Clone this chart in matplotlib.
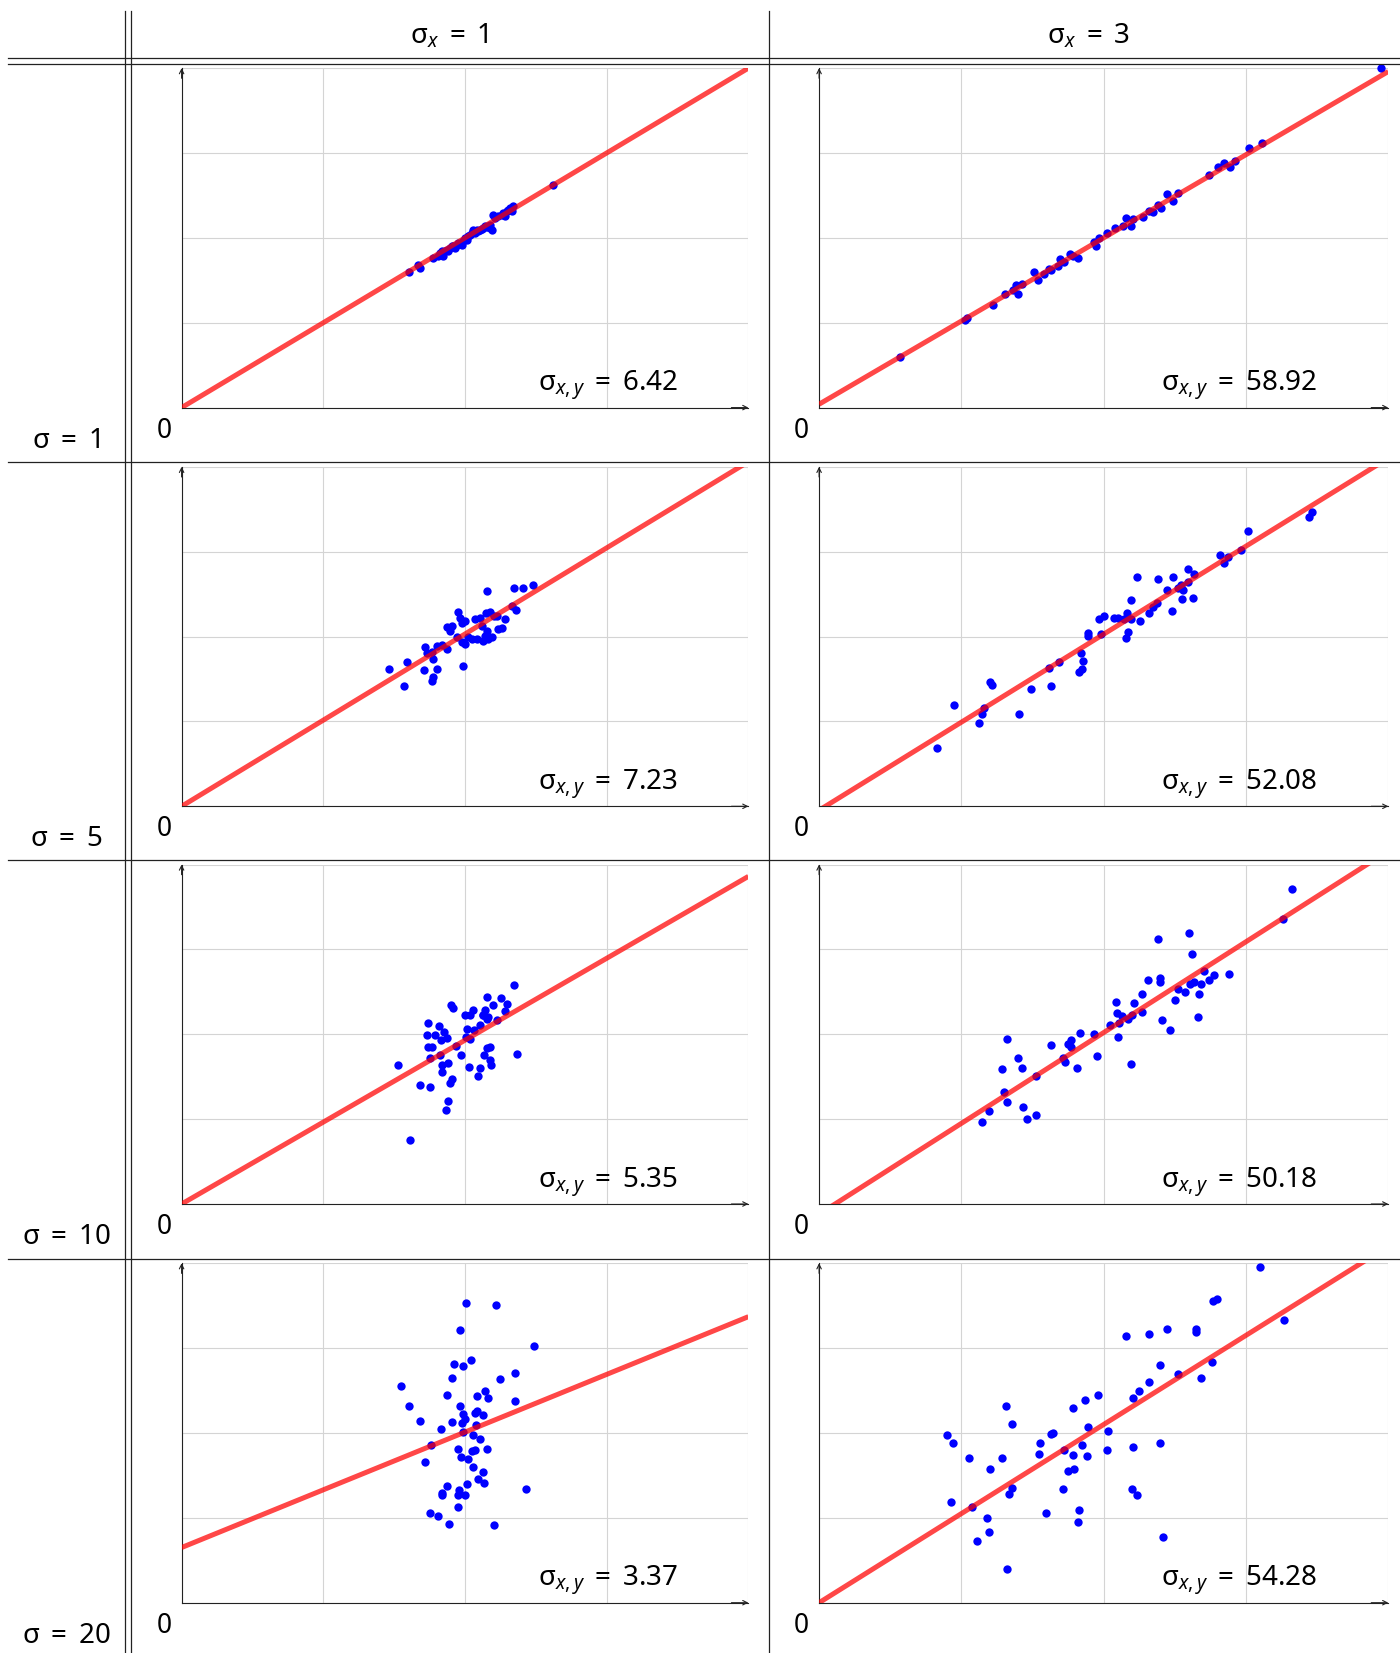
import numpy as np
import matplotlib
matplotlib.use('Agg')
import matplotlib.pyplot as plt
from matplotlib.lines import Line2D

plt.rcParams['font.family'] = ['Noto Sans', 'DejaVu Sans']
plt.rcParams['mathtext.fontset'] = 'custom'
plt.rcParams['mathtext.rm'] = 'Noto Sans'
plt.rcParams['mathtext.it'] = 'Noto Sans:italic'

# labels of the table
noise_labels = ['σ$\\;=\\;$1', 'σ$\\;=\\;$5', 'σ$\\;=\\;$10', 'σ$\\;=\\;$20']
sx_labels = ['σ$_x\\;=\\;$1', 'σ$_x\\;=\\;$3']
cov_values = [['6.42', '58.92'], ['7.23', '52.08'], ['5.35', '50.18'], ['3.37', '54.28']]

# regression lines (grid units, axes 0..4)
intercepts = [[0.0, 0.04], [0.0, -0.046], [0.0, -0.12], [0.65, 0.0]]
slopes = [[1.0, 0.98], [1.015, 1.037], [0.965, 1.07], [0.68, 1.05]]

# row 1 (sigma = 1)
x_r1c1 = [1.605, 1.670, 1.682, 1.776, 1.823, 1.847, 1.859, 1.894, 1.918, 1.941, 1.965, 1.988, 2.000,
          2.035, 2.059, 2.071, 2.094, 2.118, 2.153, 2.176, 2.188, 2.200, 2.259, 2.294, 2.318, 2.341,
          2.330, 2.623, 1.812, 1.835, 1.871, 1.882, 1.906, 1.929, 1.953, 1.977, 2.012, 2.024, 2.047,
          2.082, 2.106, 2.130, 2.165, 2.212, 2.236, 2.271, 2.283, 2.306, 2.177, 2.141]
y_r1c1 = [1.597, 1.683, 1.644, 1.762, 1.822, 1.782, 1.841, 1.880, 1.908, 1.919, 1.931, 1.959, 1.999,
          2.038, 2.097, 2.058, 2.077, 2.105, 2.128, 2.156, 2.097, 2.266, 2.274, 2.313, 2.353, 2.372,
          2.313, 2.628, 1.790, 1.841, 1.860, 1.841, 1.900, 1.880, 1.939, 1.919, 1.970, 2.018, 2.057,
          2.096, 2.096, 2.116, 2.136, 2.234, 2.254, 2.293, 2.254, 2.333, 2.116, 2.144]
x_r1c2 = [0.568, 1.041, 1.028, 1.220, 1.304, 1.360, 1.386, 1.398, 1.424, 1.513, 1.539, 1.577, 1.616,
          1.628, 1.692, 1.679, 1.718, 1.764, 1.782, 1.820, 1.935, 1.943, 1.968, 2.024, 2.080, 2.139,
          2.157, 2.190, 2.203, 2.275, 2.318, 2.344, 2.382, 2.400, 2.446, 2.489, 2.522, 2.739, 2.803,
          2.842, 2.888, 2.926, 3.020, 3.110, 3.948]
y_r1c2 = [0.600, 1.053, 1.034, 1.203, 1.340, 1.388, 1.447, 1.337, 1.459, 1.597, 1.499, 1.577, 1.632,
          1.616, 1.754, 1.664, 1.715, 1.809, 1.781, 1.762, 1.948, 1.900, 2.003, 2.062, 2.116, 2.136,
          2.235, 2.144, 2.227, 2.246, 2.313, 2.301, 2.392, 2.353, 2.520, 2.439, 2.529, 2.740, 2.830,
          2.882, 2.830, 2.909, 3.053, 3.120, 4.005]

# row 2 (sigma = 5)
x_r2c1 = [1.466, 1.571, 1.588, 1.713, 1.718, 1.729, 1.765, 1.765, 1.777, 1.800, 1.772, 1.800, 1.835,
          1.871, 1.875, 1.894, 1.906, 1.953, 1.965, 1.976, 2.000, 1.941, 1.976, 2.000, 1.988, 2.024,
          2.047, 2.071, 2.082, 2.106, 2.129, 2.141, 2.153, 2.118, 2.148, 2.176, 2.188, 2.165, 2.153,
          2.205, 2.224, 2.236, 2.259, 2.282, 2.329, 2.357, 2.345, 2.412, 2.482]
y_r2c1 = [1.617, 1.422, 1.703, 1.606, 1.872, 1.806, 1.820, 1.481, 1.520, 1.617, 1.734, 1.891, 1.902,
          1.852, 2.118, 2.067, 2.125, 2.290, 2.223, 2.165, 2.184, 1.989, 1.930, 1.911, 1.657, 1.989,
          1.970, 2.204, 1.970, 2.223, 1.950, 2.008, 2.067, 2.125, 2.282, 2.290, 1.989, 1.970, 2.536,
          2.243, 2.243, 2.094, 2.106, 2.204, 2.360, 2.309, 2.567, 2.567, 2.602]
x_r2c2 = [0.831, 0.950, 1.126, 1.147, 1.159, 1.201, 1.217, 1.405, 1.491, 1.613, 1.632, 1.688, 1.829,
          1.848, 1.853, 1.843, 1.888, 1.892, 1.981, 1.969, 2.004, 2.075, 2.103, 2.143, 2.166, 2.192,
          2.157, 2.173, 2.255, 2.192, 2.232, 2.321, 2.344, 2.372, 2.379, 2.443, 2.482, 2.489, 2.525,
          2.543, 2.560, 2.553, 2.590, 2.593, 2.625, 2.635, 2.817, 2.845, 2.871, 2.963, 3.012, 3.445, 3.461]
y_r2c2 = [0.686, 1.194, 0.980, 1.090, 1.164, 1.461, 1.434, 1.085, 1.387, 1.629, 1.418, 1.696, 1.578,
          1.618, 1.711, 1.805, 2.039, 2.008, 2.035, 2.211, 2.243, 2.223, 2.223, 2.204, 2.282, 2.204,
          1.981, 2.059, 2.184, 2.430, 2.699, 2.274, 2.348, 2.399, 2.680, 2.543, 2.301, 2.699, 2.575,
          2.603, 2.543, 2.446, 2.641, 2.797, 2.454, 2.738, 2.966, 2.868, 2.939, 3.025, 3.246, 3.407, 3.473]

# row 3 (sigma = 10)
x_r3c1 = [1.529, 1.612, 1.683, 1.753, 1.741, 1.729, 1.741, 1.765, 1.753, 1.788, 1.816, 1.824, 1.831,
          1.835, 1.835, 1.854, 1.871, 1.878, 1.901, 1.913, 1.906, 1.894, 1.882, 1.866, 1.937, 1.972,
          2.000, 2.016, 2.031, 2.035, 2.007, 2.035, 2.054, 2.066, 2.094, 2.106, 2.106, 2.129, 2.141,
          2.153, 2.153, 2.153, 2.177, 2.137, 2.177, 2.184, 2.195, 2.224, 2.252, 2.282, 2.299, 2.348,
          2.364, 2.125, 2.165]
y_r3c1 = [1.635, 0.753, 1.400, 1.380, 2.133, 1.988, 1.851, 1.851, 1.722, 1.996, 2.094, 1.761, 1.929,
          1.635, 1.557, 2.027, 1.957, 1.663, 2.341, 2.310, 1.478, 1.420, 1.216, 1.106, 1.859, 1.761,
          2.231, 2.067, 1.616, 2.224, 1.969, 1.941, 2.290, 2.055, 1.506, 1.604, 2.106, 2.224, 2.282,
          2.439, 2.176, 1.839, 1.851, 1.753, 1.694, 1.643, 2.349, 2.173, 2.431, 2.271, 2.353, 2.584,
          1.773, 2.231, 2.204]
x_r3c2 = [1.147, 1.194, 1.299, 1.318, 1.287, 1.323, 1.395, 1.424, 1.431, 1.459, 1.524, 1.524, 1.629,
          1.712, 1.728, 1.751, 1.770, 1.770, 1.815, 1.831, 1.929, 1.955, 2.042, 2.084, 2.098, 2.091,
          2.110, 2.126, 2.168, 2.196, 2.215, 2.192, 2.267, 2.271, 2.313, 2.384, 2.396, 2.398, 2.412,
          2.466, 2.501, 2.520, 2.574, 2.600, 2.618, 2.606, 2.632, 2.665, 2.667, 2.681, 2.707, 2.742,
          2.773, 2.878, 3.262, 3.321]
y_r3c2 = [0.961, 1.094, 1.322, 1.196, 1.588, 1.949, 1.725, 1.608, 1.137, 1.000, 1.047, 1.506, 1.871,
          1.725, 1.675, 1.890, 1.929, 1.851, 1.608, 2.012, 2.008, 1.745, 2.110, 2.380, 1.973, 2.251,
          2.133, 2.212, 2.184, 2.231, 2.369, 1.655, 2.478, 2.267, 2.635, 3.122, 2.667, 2.620, 2.169,
          2.051, 2.404, 2.529, 2.502, 3.196, 2.949, 2.596, 2.616, 2.204, 2.471, 2.588, 2.745, 2.639,
          2.702, 2.706, 3.361, 3.706]

# row 4 (sigma = 20)
x_r4c1 = [2.007, 2.219, 1.965, 2.489, 1.922, 1.983, 2.040, 1.906, 2.247, 2.353, 1.548, 1.871, 2.082,
          2.141, 2.165, 2.355, 1.602, 1.965, 1.988, 2.000, 2.071, 2.082, 2.129, 1.682, 1.828, 1.910,
          1.981, 1.988, 2.075, 2.059, 2.106, 1.758, 1.718, 1.953, 1.969, 2.019, 2.047, 2.071, 2.153,
          2.054, 2.125, 2.089, 2.136, 2.016, 1.871, 1.835, 1.838, 1.958, 1.953, 2.002, 2.431, 1.948,
          1.753, 1.812, 1.890, 2.207]
y_r4c1 = [3.530, 3.502, 3.208, 3.028, 2.808, 2.789, 2.855, 2.647, 2.636, 2.706, 2.553, 2.451, 2.432,
          2.498, 2.416, 2.377, 2.318, 2.314, 2.228, 2.169, 2.236, 2.255, 2.208, 2.141, 2.051, 2.130,
          2.118, 2.012, 2.091, 1.973, 1.929, 1.855, 1.659, 1.816, 1.718, 1.698, 1.792, 1.804, 1.816,
          1.600, 1.541, 1.463, 1.412, 1.404, 1.373, 1.298, 1.274, 1.326, 1.274, 1.274, 1.345, 1.130,
          1.051, 1.024, 0.926, 0.914]
x_r4c2 = [3.098, 2.770, 2.798, 3.267, 2.649, 2.649, 2.442, 2.318, 2.157, 2.396, 2.525, 2.320, 2.250,
          2.208, 2.761, 2.686, 1.962, 1.869, 1.787, 1.313, 1.356, 1.892, 2.033, 0.901, 0.943, 1.630,
          1.646, 1.552, 1.548, 1.721, 1.787, 1.848, 1.885, 2.021, 2.208, 2.396, 1.051, 1.283, 1.203,
          1.749, 1.791, 1.358, 1.335, 1.712, 2.197, 2.232, 0.929, 1.077, 1.177, 1.194, 1.107, 1.597,
          1.824, 1.817, 2.414, 1.318]
y_r4c2 = [3.961, 3.549, 3.581, 3.333, 3.228, 3.189, 3.228, 3.169, 3.138, 2.804, 2.694, 2.604, 2.494,
          2.412, 2.839, 2.651, 2.443, 2.385, 2.298, 2.318, 2.110, 2.071, 2.028, 1.973, 1.883, 1.985,
          2.000, 1.886, 1.749, 1.804, 1.737, 1.859, 1.730, 1.804, 1.836, 1.887, 1.706, 1.706, 1.581,
          1.549, 1.581, 1.357, 1.275, 1.341, 1.345, 1.267, 1.181, 1.130, 1.001, 0.828, 0.726, 1.059,
          1.091, 0.953, 0.777, 0.393]

xs_all = [[x_r1c1, x_r1c2], [x_r2c1, x_r2c2], [x_r3c1, x_r3c2], [x_r4c1, x_r4c2]]
ys_all = [[y_r1c1, y_r1c2], [y_r2c1, y_r2c2], [y_r3c1, y_r3c2], [y_r4c1, y_r4c2]]

# layout in pixels of the 1400x1653 picture
W, H = 1400, 1653
col_left = [181.6, 819.1]
col_width = [566.8, 569.2]
row_bottom = [407.6, 806.3, 1204.0, 1602.7]
row_height = 339.5
col_center = [449, 1088]

fig = plt.figure(figsize=(14, 16.53), dpi=100)


def fx(px):
    return px / W


def fy(py):
    return 1 - py / H


# table rules
for yy in [58, 64, 461.7, 860.2, 1258.7]:
    fig.add_artist(Line2D([fx(8), 1], [fy(yy), fy(yy)], color='#222222', lw=0.9))
for xx in [125, 130.5, 768.5]:
    fig.add_artist(Line2D([fx(xx), fx(xx)], [fy(11), 0], color='#222222', lw=0.9))

for j, lab in enumerate(sx_labels):
    fig.text(fx(col_center[j]), fy(43), lab, ha='center', va='baseline', fontsize=20)

for i in range(4):
    fig.text(fx(66), fy(row_bottom[i] + 40), noise_labels[i], ha='center', va='baseline', fontsize=20)
    for j in range(2):
        ax = fig.add_axes([fx(col_left[j]), fy(row_bottom[i]),
                           col_width[j] / W, row_height / H])
        ax.set_xlim(0, 4)
        ax.set_ylim(0, 4)
        ax.set_xticks([0, 1, 2, 3, 4])
        ax.set_yticks([0, 1, 2, 3, 4])
        ax.grid(True, color='#d4d4d4', lw=0.8)
        ax.tick_params(length=0, labelbottom=False, labelleft=False)
        for s in ['top', 'right']:
            ax.spines[s].set_visible(False)
        for s in ['left', 'bottom']:
            ax.spines[s].set_color('#222222')
            ax.spines[s].set_linewidth(0.8)
        ax.set_axisbelow(True)

        ax.scatter(xs_all[i][j], ys_all[i][j], s=36, color='#0000ff',
                   linewidths=0, zorder=3, clip_on=False)
        lx = np.array([0.0, 4.0])
        ax.plot(lx, intercepts[i][j] + slopes[i][j] * lx, color='#ff0000',
                lw=3.6, alpha=0.72, zorder=4, solid_capstyle='butt')

        ax.annotate('', xy=(1.0, 0), xytext=(0.97, 0), xycoords='axes fraction',
                    arrowprops=dict(arrowstyle='->', lw=0.8, color='#222222',
                                    shrinkA=0, shrinkB=0, mutation_scale=8))
        ax.annotate('', xy=(0, 1.0), xytext=(0, 0.97), xycoords='axes fraction',
                    arrowprops=dict(arrowstyle='->', lw=0.8, color='#222222',
                                    shrinkA=0, shrinkB=0, mutation_scale=8))

        ax.text(0.875, 0.05, 'σ$_{x,y}\\;=\\;$' + cov_values[i][j], transform=ax.transAxes,
                ha='right', va='baseline', fontsize=20)
        ax.annotate('0', xy=(0, 0), xycoords='axes fraction', xytext=(-12.5, -16.5),
                    textcoords='offset points', ha='center', va='center', fontsize=19)

fig.savefig('out.png', dpi=100)
